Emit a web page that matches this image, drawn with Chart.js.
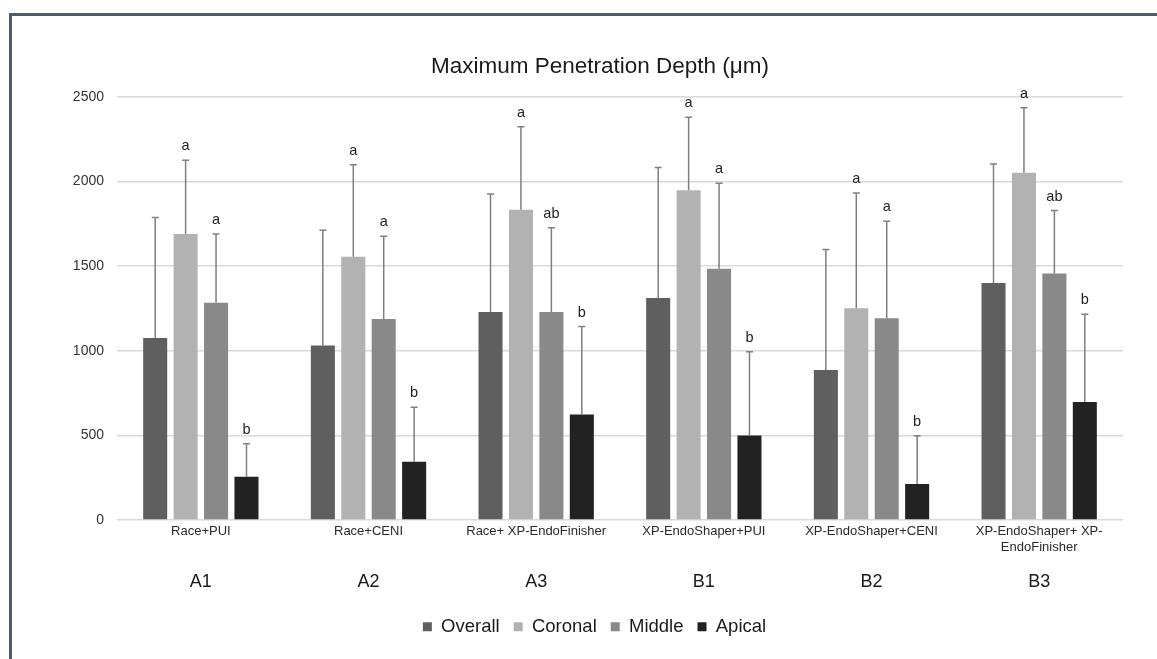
<!DOCTYPE html>
<html>
<head>
<meta charset="utf-8">
<script src="https://cdn.jsdelivr.net/npm/chart.js@4.4.1/dist/chart.umd.min.js"></script>
<style>
  html, body { margin: 0; padding: 0; background: #ffffff; }
  #wrap { position: relative; width: 1157px; height: 659px; overflow: hidden; }
  #frame { position: absolute; left: 9px; top: 13px; width: 1200px; height: 700px;
           border-top: 3px solid #4b5e6e; border-left: 3px solid #4b5e6e; box-sizing: border-box; }
  #c { position: absolute; left: 0; top: 0; }
</style>
</head>
<body>
<div id="wrap">
  <div id="frame"></div>
  <canvas id="c" width="1157" height="659"></canvas>
</div>
<script>
// ---- data ----
const categories = [
  "Race+PUI",
  "Race+CENI",
  "Race+ XP-EndoFinisher",
  "XP-EndoShaper+PUI",
  "XP-EndoShaper+CENI",
  ["XP-EndoShaper+ XP-", "EndoFinisher"]
];
const groupCodes = ["A1", "A2", "A3", "B1", "B2", "B3"];
const seriesNames = ["Overall", "Coronal", "Middle", "Apical"];

const overall = [1076, 1031, 1229, 1312, 886, 1400];
const coronal = [1691, 1556, 1833, 1949, 1251, 2053];
const middle  = [1284, 1188, 1229, 1485, 1192, 1457];
const apical  = [256, 345, 624, 500, 213, 697];

const overallSD = [712, 682, 698, 771, 713, 704];
const coronalSD = [435, 544, 491, 432, 682, 383];
const middleSD  = [407, 489, 498, 505, 574, 372];
const apicalSD  = [195, 322, 519, 495, 285, 519];

const overallLetters = ["", "", "", "", "", ""];
const coronalLetters = ["a", "a", "a", "a", "a", "a"];
const middleLetters  = ["a", "a", "ab", "a", "a", "ab"];
const apicalLetters  = ["b", "b", "b", "b", "b", "b"];

const yTicks = [0, 500, 1000, 1500, 2000, 2500];

// ---- styles ----
const colors = ["#5f5f5f", "#b2b2b2", "#898989", "#222222"];
const FONT = "'Liberation Sans', Arial, Helvetica, sans-serif";

const values = [overall, coronal, middle, apical];
const sds = [overallSD, coronalSD, middleSD, apicalSD];
const letters = [overallLetters, coronalLetters, middleLetters, apicalLetters];

const errorBarPlugin = {
  id: 'errorBars',
  beforeDraw(chart) {
    // shift title & legend centres to match the original composition
    if (chart.titleBlock) { chart.titleBlock.left = 77; chart.titleBlock.right = 1123; chart.titleBlock.width = 1046; }
    if (chart.legend) { chart.legend.left = 66; chart.legend.right = 1123; chart.legend.width = 1057; }
  },
  afterDatasetsDraw(chart) {
    const ctx = chart.ctx;
    const yScale = chart.scales.y;
    ctx.save();
    chart.data.datasets.forEach((ds, i) => {
      const meta = chart.getDatasetMeta(i);
      if (meta.hidden) return;
      meta.data.forEach((bar, j) => {
        const top = yScale.getPixelForValue(ds.data[j] + ds.sd[j]);
        ctx.strokeStyle = '#7f7f7f';
        ctx.lineWidth = 1.5;
        ctx.beginPath();
        ctx.moveTo(bar.x, bar.y);
        ctx.lineTo(bar.x, top);
        ctx.moveTo(bar.x - 3.5, top);
        ctx.lineTo(bar.x + 3.5, top);
        ctx.stroke();
        const lab = ds.letters[j];
        if (lab) {
          ctx.fillStyle = '#222222';
          ctx.font = '14.5px ' + FONT;
          ctx.textAlign = 'center';
          ctx.textBaseline = 'middle';
          ctx.fillText(lab, bar.x, top - 14);
        }
      });
    });
    ctx.restore();
  }
};

new Chart(document.getElementById('c'), {
  type: 'bar',
  data: {
    labels: categories,
    datasets: seriesNames.map((name, i) => ({
      label: name,
      data: values[i],
      sd: sds[i],
      letters: letters[i],
      backgroundColor: colors[i],
      borderWidth: 0,
      categoryPercentage: 0.726,
      barPercentage: 0.79,
      xAxisID: 'x',
      yAxisID: 'y'
    }))
  },
  options: {
    responsive: false,
    animation: false,
    devicePixelRatio: 1,
    layout: { padding: { left: 0, right: 34, top: 0, bottom: 13 } },
    plugins: {
      title: {
        display: true,
        text: 'Maximum Penetration Depth (μm)',
        color: '#1a1a1a',
        font: { family: FONT, size: 22.5, weight: 'normal' },
        padding: { top: 53, bottom: 17 }
      },
      legend: {
        display: true,
        position: 'bottom',
        labels: {
          color: '#1a1a1a',
          font: { family: FONT, size: 18.5 },
          boxWidth: 9,
          boxHeight: 9,
          padding: 14
        }
      },
      tooltip: { enabled: false }
    },
    scales: {
      y: {
        min: 0,
        max: 2500,
        afterBuildTicks(scale) { scale.ticks = yTicks.map(v => ({ value: v })); },
        afterFit(scale) { scale.width = 117; },
        grid: { color: '#d9d9d9', lineWidth: 1.5, drawTicks: false },
        border: { display: false },
        ticks: {
          color: '#333333',
          font: { family: FONT, size: 14 },
          padding: 13,
          callback: (v) => String(v)
        }
      },
      x: {
        position: 'bottom',
        weight: 1,
        afterFit(scale) { scale.height = 35.2; },
        grid: { display: false, drawTicks: false },
        border: { display: false },
        ticks: { color: '#2a2a2a', font: { family: FONT, size: 13 }, padding: 4, maxRotation: 0, autoSkip: false }
      },
      x2: {
        type: 'category',
        position: 'bottom',
        weight: 2,
        labels: groupCodes,
        afterFit(scale) { scale.height = 48.3; },
        grid: { display: false, drawTicks: false },
        border: { display: false },
        ticks: { color: '#1a1a1a', font: { family: FONT, size: 18 }, padding: 16, maxRotation: 0, autoSkip: false }
      }
    }
  },
  plugins: [errorBarPlugin]
});
</script>
</body>
</html>
